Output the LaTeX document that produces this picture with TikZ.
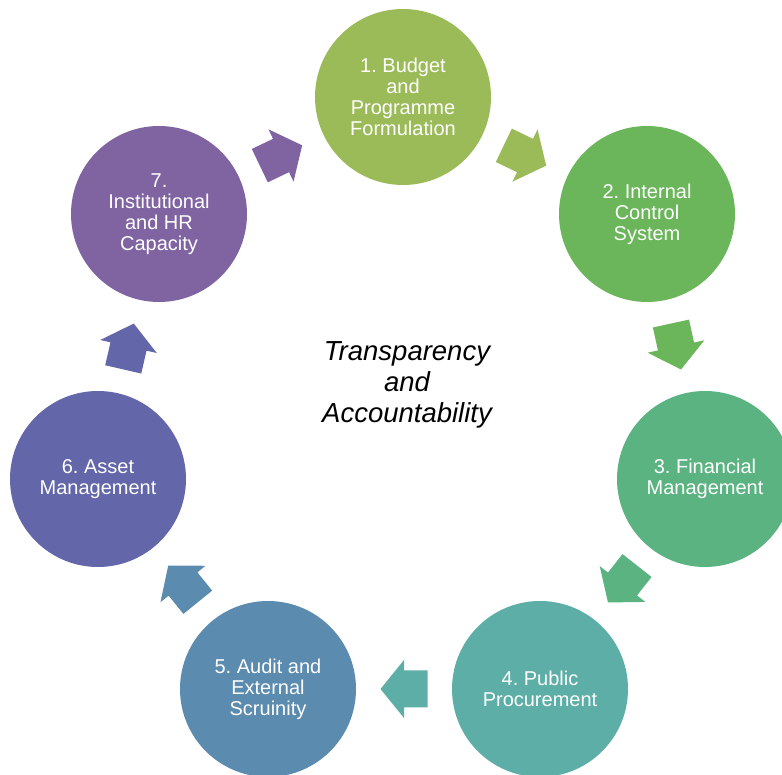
\documentclass[tikz,border=0pt]{standalone}
\usepackage{fontspec}
\setmainfont{Liberation Sans}
\usetikzlibrary{calc}
\frenchspacing

\definecolor{c1}{HTML}{9BBB59}
\definecolor{c2}{HTML}{6BB55B}
\definecolor{c3}{HTML}{5BB382}
\definecolor{c4}{HTML}{5CAEA6}
\definecolor{c5}{HTML}{5B8BAE}
\definecolor{c6}{HTML}{6366A8}
\definecolor{c7}{HTML}{8064A2}

\tikzset{
  stage/.style={circle, fill=#1, minimum size=176pt, inner sep=0pt,
    text=white, align=center, font=\fontsize{20}{21}\selectfont},
  centrelabel/.style={align=center, font=\itshape\fontsize{27.5}{31}\selectfont},
}

% block arrow halfway between two stages, pointing from #1 to #2
\newcommand\cyclearrow[3]{%
  \fill[#3] let \p1=($(#2)-(#1)$), \n1={atan2(\y1,\x1)} in
    [shift={($(#1)!0.5!(#2)$)}, rotate=\n1]
    (-23.5,-18.5) -- (0,-18.5) -- (0,-29) -- (23.5,0) -- (0,29)
    -- (0,18.5) -- (-23.5,18.5) -- cycle;
}

\begin{document}
\begin{tikzpicture}[x=1pt, y=1pt]
\useasboundingbox (0,0) rectangle (782,774);
\clip (0,0) rectangle (782,774);

\node[stage=c1] (s1) at (403,677) {1. Budget\\and\\Programme\\Formulation};
\node[stage=c2] (s2) at (647,560) {2. Internal\\Control\\System};
\node[stage=c3] (s3) at (705,295) {3. Financial\\Management};
\node[stage=c4] (s4) at (540,85)  {4. Public\\Procurement};
\node[stage=c5] (s5) at (268,85)  {5. Audit and\\External\\Scruinity};
\node[stage=c6] (s6) at (98,295)  {6. Asset\\Management};
\node[stage=c7] (s7) at (159,560) {7.\\Institutional\\and HR\\Capacity};

\node[centrelabel] (centre) at (407,389) {Transparency\\and\\Accountability};

\cyclearrow{s1}{s2}{c1}
\cyclearrow{s2}{s3}{c2}
\cyclearrow{s3}{s4}{c3}
\cyclearrow{s4}{s5}{c4}
\cyclearrow{s5}{s6}{c5}
\cyclearrow{s6}{s7}{c6}
\cyclearrow{s7}{s1}{c7}
\end{tikzpicture}
\end{document}
